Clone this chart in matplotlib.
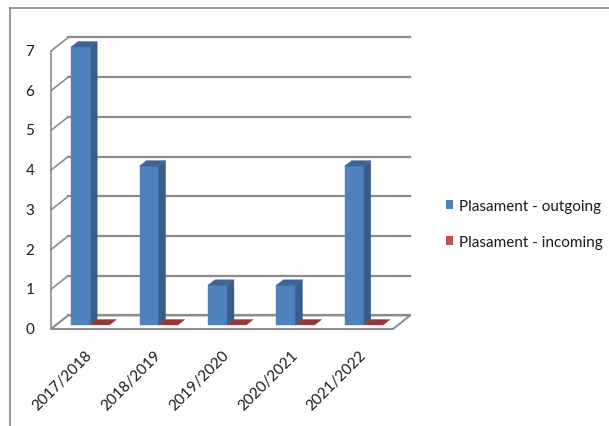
import matplotlib
matplotlib.use('Agg')
from matplotlib import pyplot as plt
from matplotlib.patches import Polygon, Patch
from matplotlib.lines import Line2D
from matplotlib import transforms

plt.rcParams['font.family'] = ['Lato', 'DejaVu Sans']

years = ['2017/2018', '2018/2019', '2019/2020', '2020/2021', '2021/2022']
outgoing = [7, 4, 1, 1, 4]
incoming = [0, 0, 0, 0, 0]
series_names = ['Plasament - outgoing', 'Plasament - incoming']
yticks = [0, 1, 2, 3, 4, 5, 6, 7]

# fake 3d: depth z in [0, 1] shifts points right and up
DX, DY = 0.25, 0.34
BAR_Z = (0.3, 0.7)
BAR_W = 0.28
GRID = '#8c8c8c'

front = {'face': ['#4f81bd', '#c0504d'],
         'side': ['#385d8a', '#6f2826'],
         'top': ['#3d6596', '#953735']}


def proj(x, y, z):
    return (x + z * DX, y + z * DY)


def box(ax, x0, x1, v, k):
    za, zb = BAR_Z
    if v > 0:
        faces = [
            ([(x0, 0, za), (x1, 0, za), (x1, v, za), (x0, v, za)], front['face'][k]),
            ([(x1, 0, za), (x1, 0, zb), (x1, v, zb), (x1, v, za)], front['side'][k]),
        ]
    else:
        faces = []
    faces.append(([(x0, v, za), (x1, v, za), (x1, v, zb), (x0, v, zb)], front['top'][k]))
    for pts, c in faces:
        ax.add_patch(Polygon([proj(*p) for p in pts], closed=True, facecolor=c,
                             edgecolor=c, linewidth=0.3, clip_on=False, zorder=5))


fig = plt.figure(figsize=(6.09, 4.27), dpi=100)
ax = fig.add_axes([51 / 609, 97 / 427, 342 / 609, 278 / 427])
ax.set_xlim(0, len(years))
ax.set_ylim(0, max(yticks))
ax.axis('off')

n = len(years)
# back wall gridlines and left wall diagonals
for v in yticks:
    a, b = proj(0, v, 1), proj(n, v, 1)
    ax.plot([a[0], b[0]], [a[1], b[1]], color=GRID, lw=1.6, clip_on=False, zorder=1)
    c = proj(0, v, 0)
    ax.plot([c[0], a[0]], [c[1], a[1]], color=GRID, lw=1.2, clip_on=False, zorder=1)
    ax.text(c[0], c[1], str(v), transform=ax.transData +
            transforms.ScaledTranslation(-12 / 72, 0, fig.dpi_scale_trans),
            ha='right', va='center', fontsize=11, color='#1a1a1a')

ax.plot([0, 0], [0, max(yticks)], color=GRID, lw=1.2, clip_on=False, zorder=1)

floor = [proj(0, 0, 0), proj(n, 0, 0), proj(n, 0, 1), proj(0, 0, 1)]
ax.add_patch(Polygon(floor, closed=True, facecolor='white', edgecolor=GRID,
                     linewidth=1.4, clip_on=False, zorder=2))

for i in range(n):
    mid = i + 0.5
    box(ax, mid - BAR_W, mid, outgoing[i], 0)
    box(ax, mid, mid + BAR_W, incoming[i], 1)
    ax.text(mid, 0, years[i], rotation=45, rotation_mode='anchor',
            ha='right', va='top', fontsize=11, color='#1a1a1a',
            transform=ax.transData +
            transforms.ScaledTranslation(0 / 72, -13 / 72, fig.dpi_scale_trans))

handles = [Patch(facecolor=front['face'][0]), Patch(facecolor=front['face'][1])]
fig.legend(handles, series_names, loc='center left',
           bbox_to_anchor=(438 / 609, 1 - 225 / 427), frameon=False,
           fontsize=11, handlelength=0.5, handleheight=0.5,
           handletextpad=0.4, labelspacing=1.45, borderpad=0,
           labelcolor='#1a1a1a')

# outer chart border (left and top only)
fig.add_artist(Line2D([10 / 609, 10 / 609], [0, 1 - 9 / 427], color='#888888', lw=1.2))
fig.add_artist(Line2D([10 / 609, 1], [1 - 9 / 427, 1 - 9 / 427], color='#888888', lw=1.2))

fig.savefig('out.png', dpi=100)
